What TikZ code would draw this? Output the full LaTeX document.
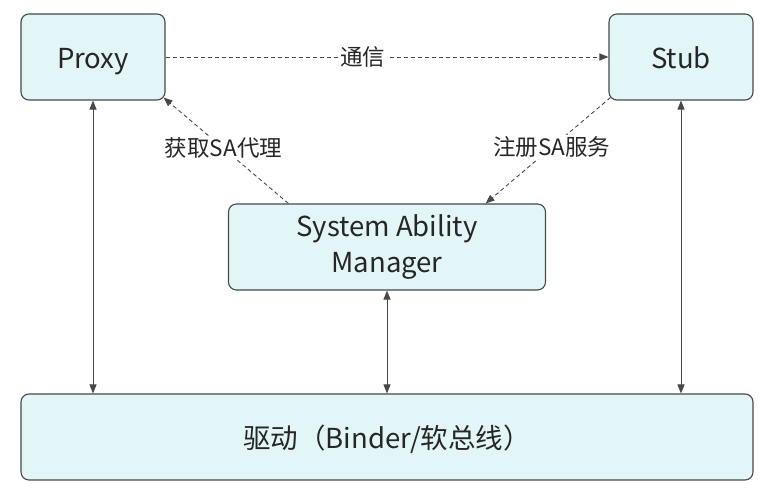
\documentclass[tikz,border=0pt]{standalone}
\usepackage{fontspec}
\setmainfont{Noto Sans CJK SC}
\usetikzlibrary{positioning, arrows.meta, calc}
\definecolor{boxfill}{RGB}{226,246,248}
\definecolor{boxline}{RGB}{72,72,72}
\definecolor{txtgray}{RGB}{38,38,38}

\begin{document}
\begin{tikzpicture}[x=1pt, y=-1pt,
    every node/.style={font=\fontsize{27.5}{36}\selectfont, text=txtgray},
    box/.style={draw=boxline, fill=boxfill, rounded corners=8pt, line width=1.1pt,
      minimum height=86pt, inner sep=0pt, align=center},
    oneline/.style={text height=22pt, text depth=0pt},
    link/.style={line width=0.9pt, draw=boxline,
      {Triangle[length=9pt,width=7pt]}-{Triangle[length=9pt,width=7pt]}},
    call/.style={line width=0.9pt, draw=boxline, dash pattern=on 4pt off 3pt,
      -{Triangle[length=9pt,width=7pt]}},
    lbl/.style={font=\fontsize{22.5}{26}\selectfont, fill=white, inner sep=1.5pt}]
  % canvas
  \fill[white] (0,0) rectangle (773,498);
  \useasboundingbox (0,0) rectangle (773,498);
  % boxes
  \node[box, oneline, minimum width=144pt] (proxy) at (93,57) {Proxy};
  \node[box, oneline, minimum width=144pt] (stub) at (681,57) {Stub};
  \node[box, minimum width=317pt] (sam) at (387,247) {System Ability\\Manager};
  \node[box, oneline, minimum width=732pt] (drv) at (387,437) {驱动（Binder/软总线）};
  % anchor points on the manager box
  \coordinate (samL) at ($(sam.north west)!0.19!(sam.north east)$);
  \coordinate (samR) at ($(sam.north west)!0.81!(sam.north east)$);
  % links to the driver
  \draw[link] (proxy.south) -- (proxy.south |- drv.north);
  \draw[link] (sam.south) -- (drv.north);
  \draw[link] (stub.south) -- (stub.south |- drv.north);
  % dashed calls
  \draw[call] (proxy.east) -- node[lbl, pos=0.445] (talk) {通信} (stub.west);
  \draw[call] (samL) -- node[lbl, pos=0.52] (getsa) {获取SA代理} ($(proxy.south east)+(-2,-3)$);
  \draw[call] ($(stub.south west)+(2,-3)$) -- node[lbl, pos=0.47] (regsa) {注册SA服务} (samR);
\end{tikzpicture}
\end{document}
